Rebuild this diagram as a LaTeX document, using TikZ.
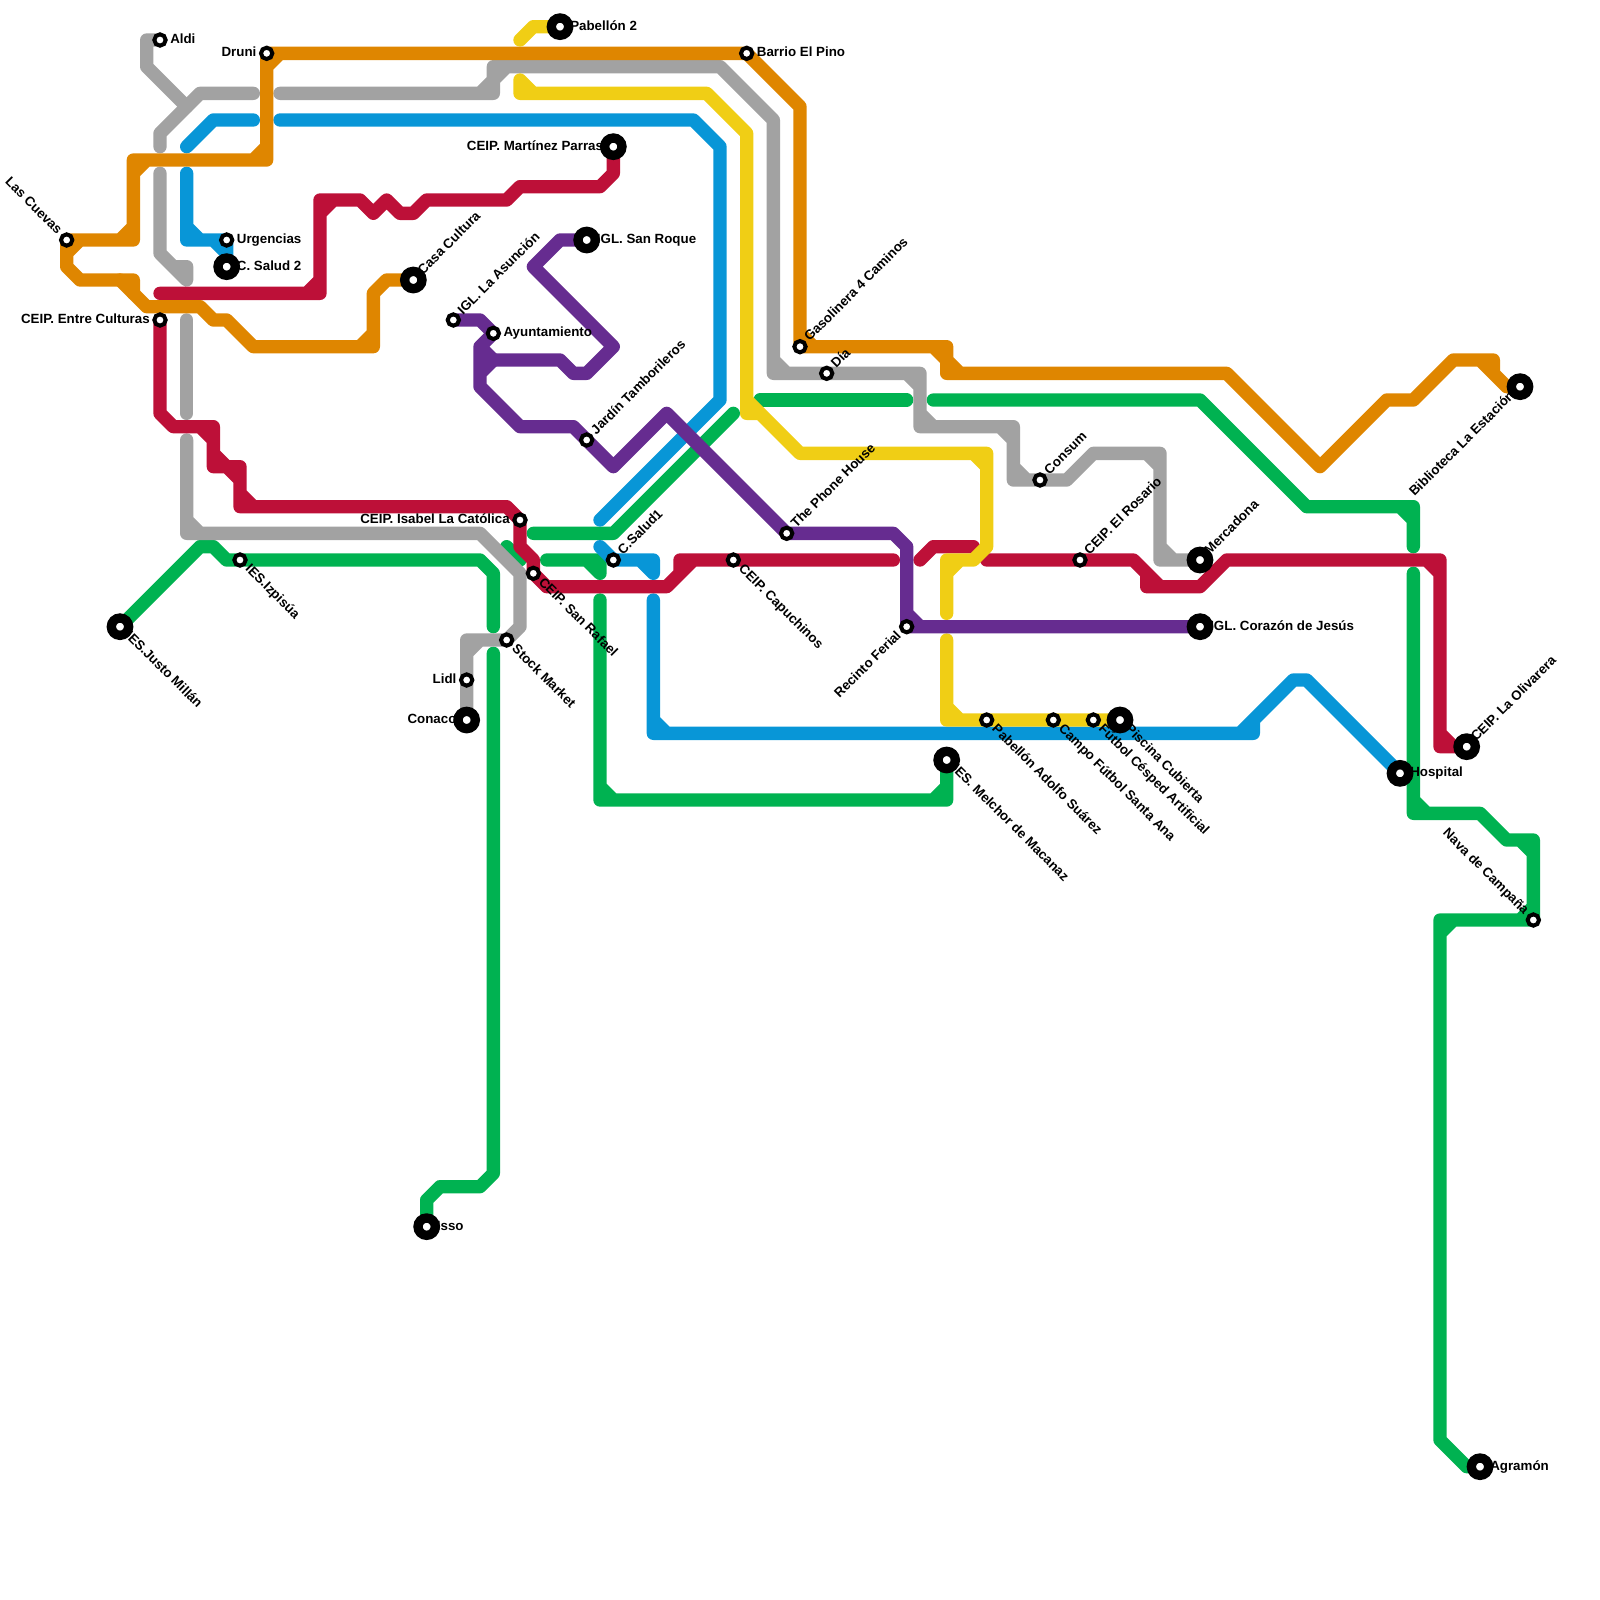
\documentclass[tikz,border=0pt]{standalone}
\usepackage{fontspec}
\setmainfont{Liberation Sans}
\usetikzlibrary{backgrounds}
\definecolor{LineGreen}{HTML}{00B251}
\definecolor{LineGray}{HTML}{A2A2A2}
\definecolor{LineBlue}{HTML}{0896D7}
\definecolor{LineRed}{HTML}{BD1038}
\definecolor{LineOrange}{HTML}{DF8600}
\definecolor{LineYellow}{HTML}{F0CE15}
\definecolor{LinePurple}{HTML}{662C90}
\tikzset{
  route/.style={line width=10pt,line cap=round,line join=round,draw=#1},
  stop/.style={circle,draw=black,fill=white,line width=3pt,minimum size=8.5pt,inner sep=0pt},
  hub/.style={circle,draw=black,fill=white,line width=7pt,minimum size=13pt,inner sep=0pt},
  stoptext/.style={font=\fontsize{10}{12}\selectfont\bfseries,inner sep=0pt},
  textE/.style={stoptext,anchor=base west,xshift=7.5pt,yshift=-2.6pt},
  textW/.style={stoptext,anchor=base east,xshift=-7.5pt,yshift=-2.6pt},
  textNE/.style={stoptext,rotate=45,anchor=base west,xshift=7.5pt,yshift=-2.6pt},
  textSE/.style={stoptext,rotate=-45,anchor=base west,xshift=7.5pt,yshift=-2.6pt},
  textSW/.style={stoptext,rotate=45,anchor=base east,xshift=-7.5pt,yshift=-2.6pt},
  textNW/.style={stoptext,rotate=-45,anchor=base east,xshift=-7.5pt,yshift=-2.6pt}
}
\begin{document}
\begin{tikzpicture}[x=10pt,y=-10pt]
\useasboundingbox (0,0) rectangle (120,120);
% stations
\node[stop] (aldi) at (12,3) {};
\node[stop] (druni) at (20,4) {};
\node[stop] (cuevas) at (5,18) {};
\node[stop] (urgencias) at (17,18) {};
\node[hub] (salud2) at (17,20) {};
\node[stop] (culturas) at (12,24) {};
\node[hub] (casa) at (31,21) {};
\node[stop] (asuncion) at (34,24) {};
\node[stop] (ayto) at (37,25) {};
\node[hub] (parras) at (46,11) {};
\node[hub] (roque) at (44,18) {};
\node[hub] (pab2) at (42,2) {};
\node[stop] (pino) at (56,4) {};
\node[stop] (gaso) at (60,26) {};
\node[stop] (dia) at (62,28) {};
\node[stop] (jardin) at (44,33) {};
\node[stop] (phone) at (59,40) {};
\node[stop] (isabel) at (39,39) {};
\node[stop] (rafael) at (40,43) {};
\node[stop] (salud1) at (46,42) {};
\node[stop] (capu) at (55,42) {};
\node[stop] (stock) at (38,48) {};
\node[stop] (lidl) at (35,51) {};
\node[hub] (conaco) at (35,54) {};
\node[stop] (izpisua) at (18,42) {};
\node[hub] (millan) at (9,47) {};
\node[hub] (isso) at (32,92) {};
\node[stop] (ferial) at (68,47) {};
\node[hub] (melchor) at (71,57) {};
\node[stop] (adolfo) at (74,54) {};
\node[stop] (campo) at (79,54) {};
\node[stop] (cesped) at (82,54) {};
\node[hub] (piscina) at (84,54) {};
\node[stop] (consum) at (78,36) {};
\node[stop] (rosario) at (81,42) {};
\node[hub] (mercadona) at (90,42) {};
\node[hub] (corazon) at (90,47) {};
\node[hub] (hospital) at (105,58) {};
\node[hub] (olivarera) at (110,56) {};
\node[hub] (biblio) at (114,29) {};
\node[stop] (nava) at (115,69) {};
\node[hub] (agramon) at (111,110) {};
% labels
\node[textE] (aldilbl) at (aldi) {Aldi};
\node[textW] (drunilbl) at (druni) {Druni};
\node[textNW] (cuevaslbl) at (cuevas) {Las Cuevas};
\node[textE] (urgenciaslbl) at (urgencias) {Urgencias};
\node[textE] (salud2lbl) at (salud2) {C. Salud 2};
\node[textW] (culturaslbl) at (culturas) {CEIP. Entre Culturas};
\node[textNE] (casalbl) at (casa) {Casa Cultura};
\node[textNE] (asuncionlbl) at (asuncion) {IGL. La Asunción};
\node[textE] (aytolbl) at (ayto) {Ayuntamiento};
\node[textW] (parraslbl) at (parras) {CEIP. Martínez Parras};
\node[textE] (roquelbl) at (roque) {IGL. San Roque};
\node[textE] (pab2lbl) at (pab2) {Pabellón 2};
\node[textE] (pinolbl) at (pino) {Barrio El Pino};
\node[textNE] (gasolbl) at (gaso) {Gasolinera 4 Caminos};
\node[textNE] (dialbl) at (dia) {Día};
\node[textNE] (jardinlbl) at (jardin) {Jardín Tamborileros};
\node[textNE] (phonelbl) at (phone) {The Phone House};
\node[textW] (isabellbl) at (isabel) {CEIP. Isabel La Católica};
\node[textSE] (rafaellbl) at (rafael) {CEIP. San Rafael};
\node[textNE] (salud1lbl) at (salud1) {C.Salud1};
\node[textSE] (capulbl) at (capu) {CEIP. Capuchinos};
\node[textSE] (stocklbl) at (stock) {Stock Market};
\node[textW] (lidllbl) at (lidl) {Lidl};
\node[textW] (conacolbl) at (conaco) {Conaco};
\node[textSE] (izpisualbl) at (izpisua) {IES.Izpisúa};
\node[textSE] (millanlbl) at (millan) {IES.Justo Millán};
\node[textE] (issolbl) at (isso) {Isso};
\node[textSW] (feriallbl) at (ferial) {Recinto Ferial};
\node[textSE] (melchorlbl) at (melchor) {IES. Melchor de Macanaz};
\node[textSE] (adolfolbl) at (adolfo) {Pabellón Adolfo Suárez};
\node[textSE] (campolbl) at (campo) {Campo Fútbol Santa Ana};
\node[textSE] (cespedlbl) at (cesped) {Fútbol Césped Artificial};
\node[textSE] (piscinalbl) at (piscina) {Piscina Cubierta};
\node[textNE] (consumlbl) at (consum) {Consum};
\node[textNE] (rosariolbl) at (rosario) {CEIP. El Rosario};
\node[textNE] (mercadonalbl) at (mercadona) {Mercadona};
\node[textE] (corazonlbl) at (corazon) {IGL. Corazón de Jesús};
\node[textE] (hospitallbl) at (hospital) {Hospital};
\node[textNE] (olivareralbl) at (olivarera) {CEIP. La Olivarera};
\node[textSW] (bibliolbl) at (biblio) {Biblioteca La Estación};
\node[textNW] (navalbl) at (nava) {Nava de Campaña};
\node[textE] (agramonlbl) at (agramon) {Agramón};
% lines, below the stations
\begin{scope}[on background layer]
\draw[route=LineGreen] (millan.center) -- (15,41) -- (16,41) -- (17,42) -- (izpisua.center) -- (36,42) -- (37,43) -- (37,47);
\draw[route=LineGreen] (37,49) -- (37,88) -- (36,89) -- (33,89) -- (32,90) -- (isso.center);
\draw[route=LineGreen] (38,41) -- (39,42);
\draw[route=LineGreen] (40,40) -- (46,40) -- (55,31);
\draw[route=LineGreen] (41,42) -- (45,42) -- (45,43) (44,42) -- (45,43);
\draw[route=LineGreen] (45,45) -- (45,60) -- (71,60) -- (melchor.center) (45,59) -- (46,60) (70,60) -- (71,59);
\draw[route=LineGreen] (57,30) -- (68,30);
\draw[route=LineGreen] (70,30) -- (90,30) -- (98,38) -- (106,38) -- (106,41) (105,38) -- (106,39);
\draw[route=LineGreen] (106,43) -- (106,61) -- (111,61) -- (113,63) -- (115,63) -- (nava.center) -- (108,69) -- (108,108) -- (110,110) -- (agramon.center)
  (106,60) -- (107,61) (114,63) -- (115,64) (114,69) -- (115,68) (108,70) -- (109,69);
\draw[route=LineGray] (aldi.center) -- (11,3) -- (11,5) -- (14,8);
\draw[route=LineGray] (12,11) -- (12,10) -- (15,7) -- (19,7);
\draw[route=LineGray] (21,7) -- (37,7) -- (37,5) -- (54,5) -- (58,9) -- (58,28) -- (69,28) -- (69,32) -- (76,32) -- (76,36) -- (consum.center) -- (80,36) -- (82,34) -- (87,34) -- (87,42) -- (mercadona.center)
  (36,7) -- (38,5) (58,27) -- (59,28) (68,28) -- (69,29) (69,31) -- (70,32) (75,32) -- (76,33) (76,35) -- (77,36) (86,34) -- (87,35) (87,41) -- (88,42);
\draw[route=LineGray] (12,13) -- (12,19) -- (14,21) -- (14,20) -- (13,20);
\draw[route=LineGray] (14,24) -- (14,31);
\draw[route=LineGray] (14,33) -- (14,40) -- (36,40) -- (39,43) -- (39,47) -- (stock.center) -- (35,48) -- (lidl.center) -- (conaco.center) (14,39) -- (15,40) (35,49) -- (36,48);
\draw[route=LineBlue] (14,11) -- (16,9) -- (19,9);
\draw[route=LineBlue] (21,9) -- (52,9) -- (54,11) -- (54,30) -- (45,39);
\draw[route=LineBlue] (14,13) -- (14,18) -- (urgencias.center) -- (salud2.center) (14,17) -- (15,18) (16,18) -- (17,19);
\draw[route=LineBlue] (45,41) -- (salud1.center) -- (49,42) -- (49,43) (48,42) -- (49,43);
\draw[route=LineBlue] (49,45) -- (49,55) -- (94,55) -- (94,54) -- (97,51) -- (98,51) -- (hospital.center) (49,54) -- (50,55) (93,55) -- (94,54);
\draw[route=LineRed] (parras.center) -- (46,13) -- (45,14) -- (39,14) -- (38,15) -- (32,15) -- (31,16) -- (30,16) -- (29,15) -- (28,16) -- (27,15) -- (24,15) -- (24,22) -- (12,22) (24,16) -- (25,15) (23,22) -- (24,21);
\draw[route=LineRed] (culturas.center) -- (12,31) -- (13,32) -- (16,32) -- (16,35) -- (18,35) -- (18,38) -- (38,38) -- (isabel.center) -- (39,41) -- (40,42) -- (rafael.center) -- (41,44) -- (50,44) -- (52,42) -- (capu.center) -- (67,42)
  (15,32) -- (16,33) (16,34) -- (17,35) (17,35) -- (18,36) (18,37) -- (19,38) (51,43) -- (51,42) -- (52,42);
\draw[route=LineRed] (69,42) -- (70,41) -- (73,41);
\draw[route=LineRed] (74,42) -- (rosario.center) -- (85,42) -- (87,44) -- (90,44) -- (92,42) -- (108,42) -- (108,56) -- (olivarera.center) (86,43) -- (86,44) -- (87,44) (107,42) -- (108,43) (108,55) -- (109,56);
\draw[route=LineOrange] (pino.center) -- (druni.center) -- (20,12) -- (10,12) -- (10,18) -- (cuevas.center) -- (5,20) -- (6,21) -- (10,21) -- (10,22)
  (20,5) -- (21,4) (19,12) -- (20,11) (10,13) -- (11,12) (9,18) -- (10,17) (5,19) -- (6,18);
\draw[route=LineOrange] (9,21) -- (11,23) -- (15,23) -- (16,24) -- (17,24) -- (19,26) -- (28,26) -- (28,22) -- (29,21) -- (casa.center) (27,26) -- (28,25);
\draw[route=LineOrange] (pino.center) -- (60,8) -- (gaso.center) -- (71,26) -- (71,28) -- (92,28) -- (99,35) -- (104,30) -- (106,30) -- (109,27) -- (112,27) -- (112,28)
  (60,25) -- (61,26) (70,26) -- (71,27) (71,27) -- (72,28) (111,27) -- (113,29) -- (biblio.center);
\draw[route=LineYellow] (pab2.center) -- (40,2) -- (39,3);
\draw[route=LineYellow] (39,6) -- (39,7) -- (53,7) -- (56,10) -- (56,31) -- (57,31) (39,6) -- (40,7) (56,30) -- (60,34) -- (74,34) -- (74,41) -- (73,42) -- (71,42) -- (71,46) (73,34) -- (74,35) (71,43) -- (72,42);
\draw[route=LineYellow] (71,48) -- (71,54) -- (adolfo.center) -- (campo.center) -- (cesped.center) -- (piscina.center) (71,53) -- (72,54);
\draw[route=LinePurple] (roque.center) -- (42,18) -- (40,20) -- (46,26) -- (44,28) -- (43,28) -- (42,27) -- (37,27);
\draw[route=LinePurple] (asuncion.center) -- (36,24) -- (ayto.center) -- (36,26) -- (36,29) -- (39,32) -- (43,32) -- (jardin.center) -- (46,35) -- (50,31) -- (phone.center) -- (67,40) -- (68,41) -- (ferial.center) -- (corazon.center)
  (36,26) -- (37,27) -- (36,28) (68,46) -- (69,47);
\end{scope}
\end{tikzpicture}
\end{document}
